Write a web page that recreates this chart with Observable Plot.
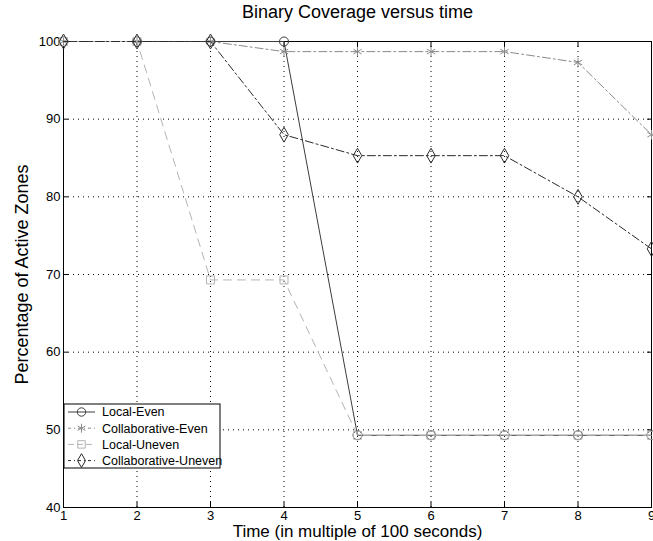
<!DOCTYPE html>
<html>
<head>
<meta charset="utf-8">
<script src="https://cdn.jsdelivr.net/npm/d3@7"></script>
<script src="https://cdn.jsdelivr.net/npm/@observablehq/plot@0.6"></script>
<style>
  html, body { margin: 0; padding: 0; background: #fff; }
  #chart { position: relative; width: 653px; height: 541px; }
</style>
</head>
<body>
<div id="chart"></div>
<script>
const times = [1, 2, 3, 4, 5, 6, 7, 8, 9];
const seriesNames = ["Local-Even", "Collaborative-Even", "Local-Uneven", "Collaborative-Uneven"];
const localEven = [100, 100, 100, 100, 49.3, 49.3, 49.3, 49.3, 49.3];
const collaborativeEven = [100, 100, 100, 98.7, 98.7, 98.7, 98.7, 97.3, 88];
const localUneven = [100, 100, 69.3, 69.3, 49.3, 49.3, 49.3, 49.3, 49.3];
const collaborativeUneven = [100, 100, 100, 88, 85.3, 85.3, 85.3, 80, 73.3];
const xTicks = [1, 2, 3, 4, 5, 6, 7, 8, 9];
const yTicks = [40, 50, 60, 70, 80, 90, 100];

const styles = {
  "Local-Even": {stroke: "#3c3c3c", dash: null, symbol: "circle"},
  "Collaborative-Even": {stroke: "#8a8a8a", dash: "8,3,2,3", symbol: "asterisk"},
  "Local-Uneven": {stroke: "#b4b4b4", dash: "8,6", symbol: "square"},
  "Collaborative-Uneven": {stroke: "#2a2a2a", dash: "8,3,2,3", symbol: "diamond"}
};
const valuesBySeries = [localEven, collaborativeEven, localUneven, collaborativeUneven];
const rows = [];
seriesNames.forEach((name, i) => times.forEach((t, j) => rows.push({series: name, time: t, value: valuesBySeries[i][j]})));

const font = "'Liberation Sans', Arial, sans-serif";
const marks = [
  Plot.gridX(xTicks.slice(1, -1), {stroke: "#000", strokeOpacity: 1, strokeDasharray: "1,4"}),
  Plot.gridY(yTicks.slice(1, -1), {stroke: "#000", strokeOpacity: 1, strokeDasharray: "1,4"}),
  Plot.frame({stroke: "#000"}),
  Plot.axisX(xTicks, {anchor: "bottom", tickSize: -5, tickPadding: 8, fontSize: 13, label: "Time (in multiple of 100 seconds)", labelAnchor: "center", labelOffset: 29, labelArrow: "none", tickFormat: d => d}),
  Plot.axisX(xTicks, {anchor: "top", tickSize: -5, text: null, label: null}),
  Plot.axisY(yTicks, {anchor: "left", tickSize: -5, tickPadding: 8, fontSize: 13, label: "Percentage of Active Zones", labelAnchor: "center", labelOffset: 48, labelArrow: "none", tickFormat: d => d}),
  Plot.axisY(yTicks, {anchor: "right", tickSize: -5, text: null, label: null}),
  Plot.text(["Binary Coverage versus time"], {frameAnchor: "top", lineAnchor: "middle", dy: -29, fontSize: 18, fill: "#000"})
];
seriesNames.forEach(name => {
  const s = styles[name];
  const data = rows.filter(r => r.series === name);
  marks.push(Plot.line(data, {x: "time", y: "value", stroke: s.stroke, strokeWidth: 1, strokeDasharray: s.dash}));
  marks.push(Plot.dot(data, {x: "time", y: "value", symbol: () => s.symbol, r: 4.5, stroke: s.stroke, fill: "none", strokeWidth: 1}));
});

const chart = Plot.plot({
  width: 653,
  height: 541,
  marginTop: 41,
  marginBottom: 34,
  marginLeft: 63,
  marginRight: 2,
  style: {fontFamily: font, fontSize: "13px", color: "#000", background: "#fff", overflow: "visible"},
  x: {domain: [1, 9], label: "Time (in multiple of 100 seconds)"},
  y: {domain: [40, 100], label: "Percentage of Active Zones"},
  symbol: {type: "identity"},
  marks
});
document.getElementById("chart").appendChild(chart);

// enlarge axis labels
d3.select(chart).selectAll("g[aria-label='x-axis label'] text")
  .style("font-size", "17px");
d3.select(chart).selectAll("g[aria-label='y-axis label'] text")
  .style("font-size", "18px");

// Legend (inside the plot frame, lower left)
const svg = d3.select(chart);
const lg = svg.append("g").attr("font-family", font).attr("font-size", 12.5).attr("text-anchor", "start");
const lx = 64, ly = 404, lw = 156, lh = 64;
lg.append("rect").attr("x", lx).attr("y", ly).attr("width", lw).attr("height", lh)
  .attr("fill", "#fff").attr("stroke", "#000");
const symGen = {circle: d3.symbolCircle, asterisk: d3.symbolAsterisk, square: d3.symbolSquare, diamond: d3.symbolDiamond};
seriesNames.forEach((name, i) => {
  const s = styles[name];
  const cy = ly + 8 + i * 16.2;
  lg.append("line").attr("x1", lx + 4).attr("x2", lx + 31).attr("y1", cy).attr("y2", cy)
    .attr("stroke", s.stroke).attr("stroke-dasharray", s.dash ? (s.dash === "8,6" ? "6,3" : "3,3,1,3") : null);
  lg.append("path").attr("d", d3.symbol(symGen[s.symbol], 4.2 * 4.2 * Math.PI)())
    .attr("transform", `translate(${lx + 17.5},${cy})`).attr("fill", "none").attr("stroke", s.stroke);
  lg.append("text").attr("x", lx + 38).attr("y", cy).attr("dy", "0.35em").attr("fill", "#000").text(name);
});
</script>
</body>
</html>
